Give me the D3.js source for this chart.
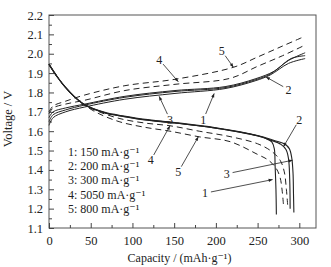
<!DOCTYPE html>
<html>
<head>
<meta charset="utf-8">
<script src="https://cdn.jsdelivr.net/npm/d3@7"></script>
<style>
  body { margin: 0; background: #fff; }
  text { font-family: "Liberation Serif", "DejaVu Serif", serif; fill: #222; }
</style>
</head>
<body>
<div id="chart"></div>
<script>
// charge curves: [capacity, voltage]
const charge1 = [[0,1.63],[5,1.67],[20,1.70],[43,1.725],[91,1.765],[151,1.795],[211,1.82],[247,1.86],[265,1.89],[287,1.95],[307,1.975]];
const charge2 = [[0,1.65],[5,1.685],[20,1.71],[43,1.735],[91,1.775],[151,1.805],[211,1.825],[247,1.865],[265,1.895],[287,1.965],[307,2.005]];
const charge3 = [[0,1.67],[5,1.70],[20,1.72],[43,1.74],[91,1.78],[151,1.81],[211,1.83],[247,1.87],[270,1.91],[290,1.975],[307,1.99]];
const charge4 = [[0,1.69],[5,1.72],[20,1.74],[43,1.76],[91,1.81],[151,1.842],[217,1.873],[250,1.935],[280,1.99],[307,2.045]];
const charge5 = [[0,1.70],[5,1.73],[20,1.755],[43,1.787],[91,1.835],[151,1.868],[221,1.93],[250,1.983],[280,2.04],[304,2.085]];

// discharge curves
const discharge1 = [[0,1.945],[10,1.88],[19,1.83],[30,1.78],[43,1.735],[67,1.694],[90,1.675],[115,1.658],[151,1.642],[200,1.615],[240,1.585],[260,1.562],[267,1.545],[270,1.51],[271,1.42],[272,1.30],[272.5,1.17]];
const discharge2 = [[0,1.945],[10,1.88],[19,1.83],[30,1.78],[43,1.737],[67,1.697],[90,1.678],[115,1.661],[151,1.645],[200,1.618],[250,1.578],[270,1.552],[282,1.535],[288,1.51],[291,1.46],[292.5,1.38],[293,1.28],[293.5,1.18]];
const discharge3 = [[0,1.945],[10,1.88],[19,1.83],[30,1.78],[43,1.736],[67,1.695],[90,1.676],[115,1.659],[151,1.643],[200,1.616],[250,1.576],[265,1.555],[278,1.532],[284,1.505],[287,1.46],[288.5,1.35],[289,1.20]];
const discharge4 = [[0,1.945],[10,1.88],[19,1.83],[30,1.78],[43,1.735],[60,1.70],[85,1.665],[115,1.642],[145,1.628],[180,1.60],[217,1.572],[250,1.535],[267,1.495],[277,1.45],[282,1.39],[284.5,1.30],[286,1.22]];
const discharge5 = [[0,1.945],[10,1.88],[19,1.83],[30,1.78],[43,1.733],[60,1.69],[85,1.648],[115,1.62],[145,1.60],[180,1.571],[217,1.546],[250,1.48],[263,1.45],[272,1.41],[277,1.36],[279.5,1.29],[281,1.22]];

const legendLabels = ["1: 150 mA·g⁻¹", "2: 200 mA·g⁻¹", "3: 300 mA·g⁻¹", "4: 5050 mA·g⁻¹", "5: 800 mA·g⁻¹"];
const xTicks = [0, 50, 100, 150, 200, 250, 300];
const yTicks = [1.1, 1.2, 1.3, 1.4, 1.5, 1.6, 1.7, 1.8, 1.9, 2.0, 2.1, 2.2];

// callout labels: [text, label cap, label V, arrow tip cap, arrow tip V]
const callouts = [
  ["5", 207, 2.015, 221, 1.93],
  ["4", 132, 1.97, 155, 1.855],
  ["3", 145, 1.66, 132, 1.78],
  ["1", 185, 1.66, 198, 1.795],
  ["2", 287, 1.815, 260, 1.88],
  ["2", 300, 1.66, 281, 1.52],
  ["3", 213, 1.38, 292, 1.45],
  ["1", 187, 1.28, 268, 1.35],
  ["4", 122, 1.45, 145, 1.628],
  ["5", 155, 1.39, 179, 1.571]
];

const W = 331, H = 267;
const margin = { top: 15, right: 15, bottom: 39, left: 49 };
const width = W - margin.left - margin.right;
const height = H - margin.top - margin.bottom;

const svg = d3.select("#chart").append("svg")
  .attr("width", W).attr("height", H)
  .append("g")
  .attr("transform", `translate(${margin.left},${margin.top})`);

const x = d3.scaleLinear().domain([0, 320]).range([0, width]);
const y = d3.scaleLinear().domain([1.1, 2.2]).range([height, 0]);

// frame
svg.append("rect")
  .attr("width", width).attr("height", height)
  .attr("fill", "none").attr("stroke", "#555").attr("stroke-width", 1);

// ticks, pointing inward
const xMinor = d3.range(25, 320, 50);
const yMinor = d3.range(1.15, 2.2, 0.1);

svg.append("g").attr("transform", `translate(0,${height})`)
  .call(d3.axisBottom(x).tickValues(xTicks).tickSizeInner(-5).tickSizeOuter(0).tickPadding(8).tickFormat(d3.format("d")))
  .call(g => g.select(".domain").remove());
svg.append("g").attr("transform", `translate(0,${height})`)
  .call(d3.axisBottom(x).tickValues(xMinor).tickSizeInner(-3).tickSizeOuter(0).tickFormat(""))
  .call(g => g.select(".domain").remove());
svg.append("g")
  .call(d3.axisLeft(y).tickValues(yTicks).tickSizeInner(-5).tickSizeOuter(0).tickPadding(6).tickFormat(d3.format(".1f")))
  .call(g => g.select(".domain").remove());
svg.append("g")
  .call(d3.axisLeft(y).tickValues(yMinor).tickSizeInner(-3).tickSizeOuter(0).tickFormat(""))
  .call(g => g.select(".domain").remove());

svg.selectAll(".tick line").attr("stroke", "#444");
svg.selectAll(".tick text").style("font-size", "12.5px").style("font-family", "Liberation Serif, serif").attr("fill", "#222");

// curves
const line = d3.line()
  .x(d => x(d[0]))
  .y(d => y(d[1]))
  .curve(d3.curveCatmullRom.alpha(0.5));

const series = [
  { data: charge1, dash: null, w: 1 },
  { data: charge2, dash: null, w: 1 },
  { data: charge3, dash: null, w: 1 },
  { data: charge4, dash: "6,4", w: 1 },
  { data: charge5, dash: "6,4", w: 1 },
  { data: discharge1, dash: null, w: 1.1 },
  { data: discharge2, dash: null, w: 1.1 },
  { data: discharge3, dash: null, w: 1.1 },
  { data: discharge4, dash: "6,4", w: 1 },
  { data: discharge5, dash: "6,4", w: 1 }
];

svg.selectAll(".curve")
  .data(series)
  .enter()
  .append("path")
  .attr("class", "curve")
  .attr("fill", "none")
  .attr("stroke", "#222")
  .attr("stroke-width", d => d.w)
  .attr("stroke-dasharray", d => d.dash)
  .attr("d", d => line(d.data));

// callouts with arrows
svg.append("defs").append("marker")
  .attr("id", "arr")
  .attr("viewBox", "0 0 10 10")
  .attr("refX", 10).attr("refY", 5)
  .attr("markerWidth", 7).attr("markerHeight", 5)
  .attr("orient", "auto")
  .append("path").attr("d", "M0,1L10,5L0,9Z").attr("fill", "#222");

callouts.forEach(c => {
  const lx = x(c[1]), ly = y(c[2]);
  const tx = x(c[3]), ty = y(c[4]);
  const dx = tx - lx, dy = ty - ly;
  const len = Math.sqrt(dx * dx + dy * dy);
  svg.append("line")
    .attr("x1", lx + dx / len * 6).attr("y1", ly + dy / len * 6)
    .attr("x2", tx).attr("y2", ty)
    .attr("stroke", "#222").attr("stroke-width", 0.8)
    .attr("marker-end", "url(#arr)");
  svg.append("text")
    .attr("x", lx).attr("y", ly)
    .attr("text-anchor", "middle")
    .attr("dominant-baseline", "central")
    .style("font-size", "12px")
    .text(c[0]);
});

// legend
svg.selectAll(".leg")
  .data(legendLabels)
  .enter()
  .append("text")
  .attr("class", "leg")
  .attr("x", 19)
  .attr("y", (d, i) => 137 + i * 14.2)
  .attr("dominant-baseline", "central")
  .style("font-size", "12px")
  .text(d => d);

// axis titles
svg.append("text")
  .attr("x", width / 2 - 3)
  .attr("y", height + 34)
  .attr("text-anchor", "middle")
  .style("font-size", "12px")
  .text("Capacity / (mAh·g⁻¹)");

svg.append("text")
  .attr("transform", "rotate(-90)")
  .attr("x", -104)
  .attr("y", -37)
  .attr("text-anchor", "middle")
  .style("font-size", "12.5px")
  .text("Voltage / V");
</script>
</body>
</html>
